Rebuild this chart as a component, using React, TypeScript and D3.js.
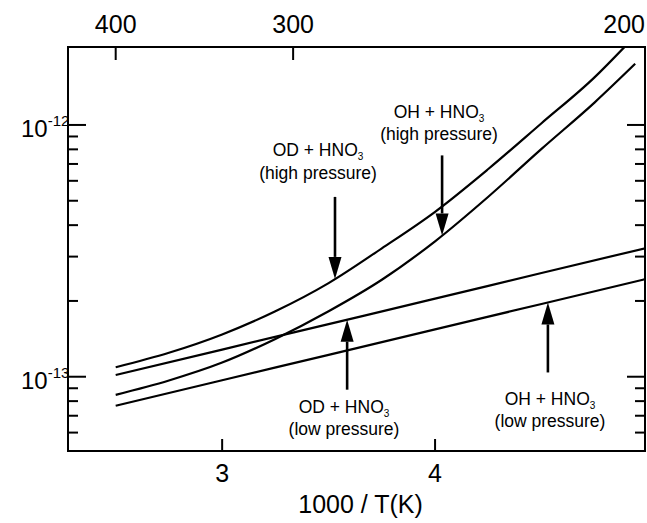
import React from "react";
import * as d3 from "d3";

// 1000/T (K^-1) grid and rate constants (cm^3 molecule^-1 s^-1)
const odHighX = [2.5, 2.75, 3.0, 3.25, 3.5, 3.75, 4.0, 4.25, 4.5, 4.75, 4.89];
const odHighK = [1.091e-13, 1.245e-13, 1.472e-13, 1.82e-13, 2.355e-13, 3.236e-13, 4.519e-13, 6.683e-13, 1.016e-12, 1.549e-12, 2.042e-12];

const ohHighX = [2.5, 2.75, 3.0, 3.25, 3.5, 3.75, 4.0, 4.25, 4.5, 4.75, 4.94];
const ohHighK = [8.472e-14, 9.661e-14, 1.138e-13, 1.413e-13, 1.82e-13, 2.427e-13, 3.451e-13, 5.188e-13, 8.035e-13, 1.23e-12, 1.75e-12];

const lowX = [2.5, 3.0, 3.5, 4.0, 4.5, 5.0];
const odLowK = [1.016e-13, 1.282e-13, 1.618e-13, 2.042e-13, 2.582e-13, 3.258e-13];
const ohLowK = [7.67e-14, 9.68e-14, 1.222e-13, 1.542e-13, 1.945e-13, 2.455e-13];

const bottomTicks = [3, 4];
const topTicksT = [400, 300, 200];
const majorY = [1e-13, 1e-12];
const majorYExp = ["-13", "-12"];

const W = 647;
const H = 523;
const FONT = "'Liberation Sans', Arial, Helvetica, sans-serif";

function interpLog(xs: number[], ks: number[], x: number) {
  for (let i = 0; i < xs.length - 1; i++) {
    if (x >= xs[i] && x <= xs[i + 1]) {
      const t = (x - xs[i]) / (xs[i + 1] - xs[i]);
      return Math.pow(10, Math.log10(ks[i]) * (1 - t) + Math.log10(ks[i + 1]) * t);
    }
  }
  return ks[ks.length - 1];
}

export default function App() {
  const left = 68, right = 645, top = 47, bottom = 451;
  const x = d3.scaleLinear().domain([2.276, 4.986]).range([left, right]);
  const y = d3.scaleLog().domain([5.07e-14, 2.04e-12]).range([bottom, top]);

  const line = (xs: number[], ks: number[]) =>
    d3
      .line<number>()
      .x((_, i) => x(xs[i]))
      .y((k) => y(k))
      .curve(d3.curveMonotoneX)(ks) as string;

  const series = [
    { xs: odHighX, ks: odHighK },
    { xs: ohHighX, ks: ohHighK },
    { xs: lowX, ks: odLowK },
    { xs: lowX, ks: ohLowK },
  ];

  // minor ticks
  const minor: number[] = [];
  [1e-14, 1e-13, 1e-12].forEach((d) => {
    for (let m = 2; m <= 9; m++) {
      const v = m * d;
      const py = y(v);
      if (py > top + 4 && py < bottom - 2) minor.push(v);
    }
  });

  const arrows = [
    { xs: odHighX, ks: odHighK, at: 3.53, dir: "down", len: 82, lx: 318, l1: 156, l2: 179, name: "OD", p: "(high pressure)" },
    { xs: ohHighX, ks: ohHighK, at: 4.033, dir: "down", len: 80, lx: 439, l1: 118, l2: 140, name: "OH", p: "(high pressure)" },
    { xs: lowX, ks: odLowK, at: 3.587, dir: "up", len: 70, lx: 344, l1: 413, l2: 435, name: "OD", p: "(low pressure)" },
    { xs: lowX, ks: ohLowK, at: 4.53, dir: "up", len: 70, lx: 550, l1: 405, l2: 427, name: "OH", p: "(low pressure)" },
  ];

  return (
    <svg
      width={W}
      height={H}
      style={{ position: "absolute", left: 0, top: 0, background: "#fff" }}
      fontFamily={FONT}
    >
      <defs>
        <clipPath id="plot">
          <rect x={left} y={top} width={right - left} height={bottom - top} />
        </clipPath>
      </defs>
      <rect x={0} y={0} width={W} height={H} fill="#fff" />

      {/* curves */}
      <g clipPath="url(#plot)">
        {series.map((s, i) => (
          <path key={i} d={line(s.xs, s.ks)} fill="none" stroke="#000" strokeWidth={2.2} />
        ))}
      </g>

      {/* frame */}
      <rect x={left} y={top} width={right - left} height={bottom - top} fill="none" stroke="#000" strokeWidth={2} />

      {/* left & right y ticks */}
      {majorY.map((v, i) => (
        <g key={"M" + i}>
          <line x1={left} x2={left + 18} y1={y(v)} y2={y(v)} stroke="#000" strokeWidth={2} />
          <line x1={right} x2={right - 18} y1={y(v)} y2={y(v)} stroke="#000" strokeWidth={2} />
          <text x={21} y={y(v) + 12} fontSize={24} fill="#000">
            10
            <tspan fontSize={15} dy={-11}>
              {majorYExp[i]}
            </tspan>
          </text>
        </g>
      ))}
      {minor.map((v, i) => (
        <g key={"m" + i}>
          <line x1={left} x2={left + 10} y1={y(v)} y2={y(v)} stroke="#000" strokeWidth={2} />
          <line x1={right} x2={right - 10} y1={y(v)} y2={y(v)} stroke="#000" strokeWidth={2} />
        </g>
      ))}

      {/* bottom axis */}
      {bottomTicks.map((t) => (
        <g key={"b" + t}>
          <line x1={x(t)} x2={x(t)} y1={bottom} y2={bottom - 12} stroke="#000" strokeWidth={2} />
          <text x={x(t)} y={482} fontSize={25} textAnchor="middle" fill="#000">
            {t}
          </text>
        </g>
      ))}
      <text x={x(3.65)} y={513} fontSize={25} textAnchor="middle" fill="#000">
        1000 / T(K)
      </text>

      {/* top axis (temperature) */}
      {topTicksT.map((T) => {
        const px = x(1000 / T);
        const inside = px < right;
        return (
          <g key={"t" + T}>
            {inside && <line x1={px} x2={px} y1={top} y2={top + 13} stroke="#000" strokeWidth={2} />}
            <text
              x={inside ? px : right}
              y={33}
              fontSize={25}
              textAnchor={inside ? "middle" : "end"}
              fill="#000"
            >
              {T}
            </text>
          </g>
        );
      })}

      {/* annotations */}
      {arrows.map((a, i) => {
        const ax = x(a.at);
        const tip = y(interpLog(a.xs, a.ks, a.at));
        const sgn = a.dir === "down" ? -1 : 1;
        const tail = tip + sgn * a.len;
        const base = tip + sgn * 22;
        return (
          <g key={"a" + i}>
            <line x1={ax} x2={ax} y1={tail} y2={base} stroke="#000" strokeWidth={2.6} />
            <polygon points={`${ax},${tip} ${ax - 6.5},${base} ${ax + 6.5},${base}`} fill="#000" />
            <text x={a.lx} y={a.l1} fontSize={17.5} textAnchor="middle" fill="#000">
              {a.name} + HNO
              <tspan fontSize={10} dy={4}>
                3
              </tspan>
            </text>
            <text x={a.lx} y={a.l2} fontSize={17.5} textAnchor="middle" fill="#000">
              {a.p}
            </text>
          </g>
        );
      })}
    </svg>
  );
}
